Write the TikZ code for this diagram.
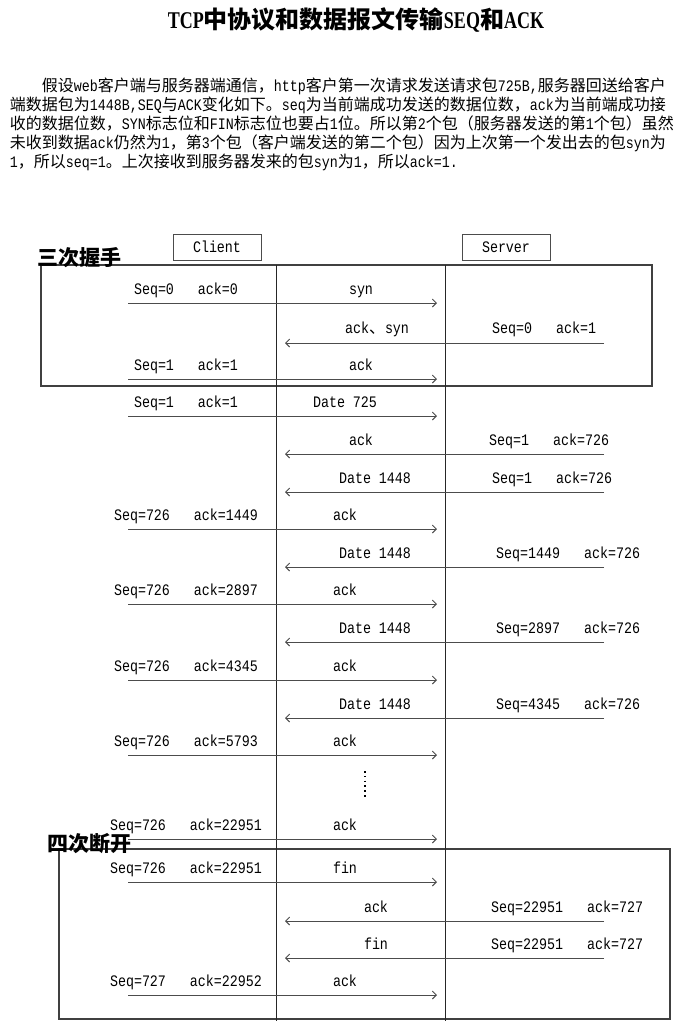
\documentclass[tikz,border=0pt]{standalone}
\usepackage{fontspec}
\setmainfont{Noto Sans CJK SC}
\newfontfamily\lat[FakeStretch=0.833]{Liberation Mono}
\newfontfamily\titlelat[FakeStretch=0.75]{Liberation Serif}
\usetikzlibrary{arrows.meta}

\newcommand\seqack[2]{Seq=#1\hspace{24pt}ack=#2}

\begin{document}
\begin{tikzpicture}[x=1pt, y=-1pt,
    % 报文箭头
    msg/.style={draw=black!70, line width=0.9pt,
        -{Straight Barb[length=4pt,width=8pt]}},
    % 报文上的文字
    lbl/.style={font=\lat\fontsize{16}{16}\selectfont, anchor=base, inner sep=0pt},
    % 正文
    para/.style={font=\fontsize{16}{16}\selectfont, anchor=base west, inner sep=0pt},
    % Client / Server 方框
    endbox/.style={draw=black!70, line width=1pt, minimum width=88pt, minimum height=26pt,
        font=\lat\fontsize{16}{16}\selectfont, inner sep=0pt},
    % 握手 / 断开 的大框
    phase/.style={draw=black!75, line width=1.1pt},
    stage/.style={font=\bfseries\fontsize{21}{21}\selectfont, anchor=base west, inner sep=0pt},
    life/.style={draw=black!85, line width=0.9pt}
]
    \useasboundingbox (0,0) rectangle (680,1021);

    % 标题
    \node[anchor=base, inner sep=0pt, font=\bfseries\fontsize{24}{24}\selectfont] (title) at (356,28)
        {{\titlelat TCP}中协议和数据报文传输{\titlelat SEQ}和{\titlelat ACK}};

    % 说明文字
    \node[para] (txt1) at (41.7,91) {假设{\lat web}客户端与服务器端通信，{\lat http}客户第一次请求发送请求包{\lat 725B,}服务器回送给客户};
    \node[para] (txt2) at (9.7,110) {端数据包为{\lat 1448B,SEQ}与{\lat ACK}变化如下。{\lat seq}为当前端成功发送的数据位数，{\lat ack}为当前端成功接};
    \node[para] (txt3) at (9.7,129) {收的数据位数，{\lat SYN}标志位和{\lat FIN}标志位也要占{\lat 1}位。所以第{\lat 2}个包（服务器发送的第{\lat 1}个包）虽然};
    \node[para] (txt4) at (9.7,148) {未收到数据{\lat ack}仍然为{\lat 1}，第{\lat 3}个包（客户端发送的第二个包）因为上次第一个发出去的包{\lat syn}为};
    \node[para] (txt5) at (9.7,167) {{\lat 1}，所以{\lat seq=1}。上次接收到服务器发来的包{\lat syn}为{\lat 1}，所以{\lat ack=1.}};

    % 两端
    \node[endbox] (client) at (217,247) {Client};
    \node[endbox] (server) at (506,247) {Server};

    % 三次握手 / 四次断开 框
    \draw[phase] (41,265) rectangle (652,386);
    \draw[phase] (59,849) rectangle (670,1019);
    \node[stage] (hs) at (37,265) {三次握手};
    \node[stage] (fin) at (47,851) {四次断开};

    % 时间线
    \coordinate (ctop) at (276.5,265); \coordinate (cbot) at (276.5,1021);
    \coordinate (stop) at (445.7,265); \coordinate (sbot) at (445.7,1021);
    \draw[life] (ctop) -- (cbot);
    \draw[life] (stop) -- (sbot);

    % 1: syn
    \coordinate (s1) at (128,303); \coordinate (e1) at (437,303);
    \draw[msg] (s1) -- (e1);
    \node[lbl] (l1) at (186,294) {\seqack{0}{0}};
    \node[lbl] (m1) at (361,294) {syn};

    % 2: ack、syn
    \coordinate (s2) at (604,343); \coordinate (e2) at (285,343);
    \draw[msg] (s2) -- (e2);
    \node[lbl] (m2) at (377,333) {ack{\normalfont 、}syn};
    \node[lbl, anchor=base west] (r2) at (492,333) {\seqack{0}{1}};

    % 3: ack
    \coordinate (s3) at (128,379); \coordinate (e3) at (437,379);
    \draw[msg] (s3) -- (e3);
    \node[lbl] (l3) at (186,370) {\seqack{1}{1}};
    \node[lbl] (m3) at (361,370) {ack};

    % 4: Date 725
    \coordinate (s4) at (128,416); \coordinate (e4) at (437,416);
    \draw[msg] (s4) -- (e4);
    \node[lbl] (l4) at (186,407) {\seqack{1}{1}};
    \node[lbl] (m4) at (345,407) {Date 725};

    % 5: ack
    \coordinate (s5) at (604,454); \coordinate (e5) at (285,454);
    \draw[msg] (s5) -- (e5);
    \node[lbl] (m5) at (361,445) {ack};
    \node[lbl, anchor=base west] (r5) at (489,445) {\seqack{1}{726}};

    % 6: Date 1448
    \coordinate (s6) at (604,492); \coordinate (e6) at (285,492);
    \draw[msg] (s6) -- (e6);
    \node[lbl] (m6) at (375,483) {Date 1448};
    \node[lbl, anchor=base west] (r6) at (492,483) {\seqack{1}{726}};

    % 7: ack
    \coordinate (s7) at (128,529); \coordinate (e7) at (437,529);
    \draw[msg] (s7) -- (e7);
    \node[lbl] (l7) at (186,520) {\seqack{726}{1449}};
    \node[lbl] (m7) at (345,520) {ack};

    % 8: Date 1448
    \coordinate (s8) at (604,567); \coordinate (e8) at (285,567);
    \draw[msg] (s8) -- (e8);
    \node[lbl] (m8) at (375,558) {Date 1448};
    \node[lbl, anchor=base west] (r8) at (496,558) {\seqack{1449}{726}};

    % 9: ack
    \coordinate (s9) at (128,604); \coordinate (e9) at (437,604);
    \draw[msg] (s9) -- (e9);
    \node[lbl] (l9) at (186,595) {\seqack{726}{2897}};
    \node[lbl] (m9) at (345,595) {ack};

    % 10: Date 1448
    \coordinate (s10) at (604,642); \coordinate (e10) at (285,642);
    \draw[msg] (s10) -- (e10);
    \node[lbl] (m10) at (375,633) {Date 1448};
    \node[lbl, anchor=base west] (r10) at (496,633) {\seqack{2897}{726}};

    % 11: ack
    \coordinate (s11) at (128,680); \coordinate (e11) at (437,680);
    \draw[msg] (s11) -- (e11);
    \node[lbl] (l11) at (186,671) {\seqack{726}{4345}};
    \node[lbl] (m11) at (345,671) {ack};

    % 12: Date 1448
    \coordinate (s12) at (604,718); \coordinate (e12) at (285,718);
    \draw[msg] (s12) -- (e12);
    \node[lbl] (m12) at (375,709) {Date 1448};
    \node[lbl, anchor=base west] (r12) at (496,709) {\seqack{4345}{726}};

    % 13: ack
    \coordinate (s13) at (128,755); \coordinate (e13) at (437,755);
    \draw[msg] (s13) -- (e13);
    \node[lbl] (l13) at (186,746) {\seqack{726}{5793}};
    \node[lbl] (m13) at (345,746) {ack};

    % 省略
    \coordinate (dtop) at (365,771); \coordinate (dbot) at (365,799);
    \draw[line width=1.6pt, dash pattern=on 1.6pt off 3.2pt] (dtop) -- (dbot);

    % 14: ack
    \coordinate (s14) at (128,839); \coordinate (e14) at (437,839);
    \draw[msg] (s14) -- (e14);
    \node[lbl] (l14) at (186,830) {\seqack{726}{22951}};
    \node[lbl] (m14) at (345,830) {ack};

    % 15: fin
    \coordinate (s15) at (128,882); \coordinate (e15) at (437,882);
    \draw[msg] (s15) -- (e15);
    \node[lbl] (l15) at (186,873) {\seqack{726}{22951}};
    \node[lbl] (m15) at (345,873) {fin};

    % 16: ack
    \coordinate (s16) at (604,921); \coordinate (e16) at (285,921);
    \draw[msg] (s16) -- (e16);
    \node[lbl] (m16) at (376,912) {ack};
    \node[lbl, anchor=base west] (r16) at (491,912) {\seqack{22951}{727}};

    % 17: fin
    \coordinate (s17) at (604,958); \coordinate (e17) at (285,958);
    \draw[msg] (s17) -- (e17);
    \node[lbl] (m17) at (376,949) {fin};
    \node[lbl, anchor=base west] (r17) at (491,949) {\seqack{22951}{727}};

    % 18: ack
    \coordinate (s18) at (128,995); \coordinate (e18) at (437,995);
    \draw[msg] (s18) -- (e18);
    \node[lbl] (l18) at (186,986) {\seqack{727}{22952}};
    \node[lbl] (m18) at (345,986) {ack};
\end{tikzpicture}
\end{document}
